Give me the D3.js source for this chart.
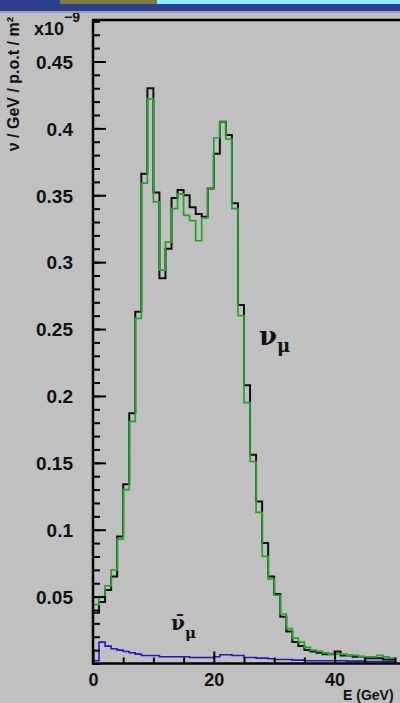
<!DOCTYPE html>
<html>
<head>
<meta charset="utf-8">
<script src="https://cdn.jsdelivr.net/npm/d3@7"></script>
<style>
  html, body { margin: 0; padding: 0; background: #c0c0c0; overflow: hidden; }
  svg { display: block; }
</style>
</head>
<body>
<svg id="chart" width="400" height="703"></svg>
<script>
// Energy bins (lower edges, GeV); each bin is 1 GeV wide
const binLowEdges = [0,1,2,3,4,5,6,7,8,9,10,11,12,13,14,15,16,17,18,19,20,21,22,23,24,25,26,27,28,29,30,31,32,33,34,35,36,37,38,39,40,41,42,43,44,45,46,47,48,49];
const binWidth = 1;

// nu_mu flux, first calculation (black), units of 1e-9 nu / GeV / p.o.t / m^2
const numuFluxA = [0.038,0.046,0.055,0.065,0.095,0.134,0.187,0.263,0.366,0.430,
                   0.352,0.288,0.310,0.348,0.354,0.350,0.341,0.336,0.334,0.355,
                   0.381,0.405,0.395,0.344,0.268,0.208,0.156,0.121,0.090,0.065,
                   0.052,0.035,0.024,0.016,0.013,0.010,0.009,0.008,0.007,0.007,
                   0.009,0.006,0.006,0.005,0.005,0.004,0.004,0.004,0.003,0.003];

// nu_mu flux, second calculation (green)
const numuFluxB = [0.044,0.050,0.058,0.070,0.093,0.130,0.181,0.258,0.359,0.422,
                   0.345,0.294,0.315,0.340,0.351,0.335,0.331,0.316,0.333,0.355,
                   0.393,0.405,0.392,0.340,0.260,0.195,0.151,0.113,0.080,0.063,
                   0.051,0.037,0.026,0.019,0.016,0.012,0.010,0.009,0.008,0.007,
                   0.007,0.007,0.006,0.006,0.005,0.005,0.005,0.006,0.005,0.004];

// anti-nu_mu flux (blue)
const numubarFlux = [0.002,0.016,0.013,0.011,0.010,0.009,0.008,0.007,0.006,0.006,
                     0.006,0.005,0.005,0.005,0.005,0.005,0.0045,0.0045,0.0045,0.0045,
                     0.005,0.0065,0.0065,0.006,0.006,0.0045,0.0045,0.004,0.004,0.0035,
                     0.003,0.003,0.003,0.0025,0.0025,0.002,0.002,0.002,0.002,0.002,
                     0.002,0.002,0.0018,0.0018,0.0018,0.0015,0.0015,0.0015,0.0015,0.0015];

// Axis ticks and labels
const xMajorTicks = [0, 20, 40];
const xMinorTicks = [5, 10, 15, 25, 30, 35, 45, 50];
const xTickLabels = ["0", "20", "40"];
const yMajorTicks = [0.05, 0.1, 0.15, 0.2, 0.25, 0.3, 0.35, 0.4, 0.45];
const yTickLabels = ["0.05", "0.1", "0.15", "0.2", "0.25", "0.3", "0.35", "0.4", "0.45"];

const svg = d3.select("#chart");
const W = 400, H = 703;

const frame = { left: 93, right: 400, top: 20, bottom: 663.5 };
const x = d3.scaleLinear().domain([0, 50]).range([93, 395]);
const y = d3.scaleLinear().domain([0, 0.481]).range([663.5, 20]);

const sans = "Liberation Sans, Arial, sans-serif";

// background
svg.append("rect").attr("width", W).attr("height", H).attr("fill", "#c0c0c0");

svg.append("defs").append("clipPath").attr("id", "plotClip")
  .append("rect")
  .attr("x", frame.left).attr("y", frame.top)
  .attr("width", frame.right - frame.left).attr("height", frame.bottom - frame.top);

// histogram outline as a step line
function stepPoints(values) {
  const pts = [[binLowEdges[0], 0]];
  values.forEach((v, i) => pts.push([binLowEdges[i], v]));
  const last = values.length - 1;
  pts.push([binLowEdges[last] + binWidth, values[last]]);
  return pts;
}
const stepLine = d3.line()
  .x(d => x(d[0]))
  .y(d => y(d[1]))
  .curve(d3.curveStepAfter);

const plot = svg.append("g").attr("clip-path", "url(#plotClip)");

plot.append("path")
  .attr("d", stepLine(stepPoints(numubarFlux)))
  .attr("fill", "none").attr("stroke", "#1a1ac8").attr("stroke-width", 1.6);

plot.append("path")
  .attr("d", stepLine(stepPoints(numuFluxA)))
  .attr("fill", "none").attr("stroke", "#101010").attr("stroke-width", 2);

plot.append("path")
  .attr("d", stepLine(stepPoints(numuFluxB)))
  .attr("fill", "none").attr("stroke", "#22a52a").attr("stroke-width", 1.7);

// y axis: minor ticks every 0.01, longer ticks at the labelled values
const yMinorAxis = d3.axisLeft(y).tickValues(y.ticks(50)).tickSize(-7).tickFormat("");
const yMajorAxis = d3.axisLeft(y).tickValues(yMajorTicks).tickSize(-13).tickPadding(20)
  .tickFormat((d, i) => yTickLabels[i]);

const gyMinor = svg.append("g").attr("transform", `translate(${frame.left},0)`).call(yMinorAxis);
const gyMajor = svg.append("g").attr("transform", `translate(${frame.left},0)`).call(yMajorAxis);
[gyMinor, gyMajor].forEach(g => {
  g.select(".domain").remove();
  g.selectAll(".tick line").attr("stroke", "#000").attr("stroke-width", 2);
});
gyMajor.selectAll(".tick text")
  .attr("fill", "#111")
  .attr("font-family", sans)
  .attr("font-weight", "bold")
  .attr("font-size", 19)
  .attr("dy", "0.36em");

// x axis: ticks pointing up into the plot
const xMinorAxis = d3.axisBottom(x).tickValues(xMinorTicks).tickSize(-6).tickFormat("");
const xMajorAxis = d3.axisBottom(x).tickValues(xMajorTicks).tickSize(-12).tickPadding(10)
  .tickFormat((d, i) => xTickLabels[i]);
const gxMinor = svg.append("g").attr("transform", `translate(0,${frame.bottom})`).call(xMinorAxis);
const gxMajor = svg.append("g").attr("transform", `translate(0,${frame.bottom})`).call(xMajorAxis);
[gxMinor, gxMajor].forEach(g => {
  g.select(".domain").remove();
  g.selectAll(".tick line").attr("stroke", "#000").attr("stroke-width", 2);
});
gxMajor.selectAll(".tick text")
  .attr("fill", "#111")
  .attr("font-family", sans)
  .attr("font-weight", "bold")
  .attr("font-size", 18);

// frame lines
svg.append("line").attr("x1", frame.left).attr("x2", frame.left)
  .attr("y1", frame.top).attr("y2", frame.bottom + 1)
  .attr("stroke", "#000").attr("stroke-width", 2.5);
svg.append("line").attr("x1", frame.left - 1).attr("x2", frame.right)
  .attr("y1", frame.bottom).attr("y2", frame.bottom)
  .attr("stroke", "#000").attr("stroke-width", 2.5);
svg.append("line").attr("x1", frame.left - 1).attr("x2", frame.right)
  .attr("y1", frame.top).attr("y2", frame.top)
  .attr("stroke", "#000").attr("stroke-width", 2.5);

// axis titles
svg.append("text")
  .attr("transform", "translate(19,17) rotate(-90)")
  .attr("text-anchor", "end")
  .attr("font-family", sans)
  .attr("font-weight", "bold")
  .attr("font-size", 16)
  .attr("fill", "#111")
  .text("ν / GeV / p.o.t / m²");

svg.append("text")
  .attr("x", 343).attr("y", 700)
  .attr("font-family", sans)
  .attr("font-weight", "bold")
  .attr("font-size", 14)
  .attr("fill", "#111")
  .text("E (GeV)");

// exponent of the y axis
const expo = svg.append("text")
  .attr("x", 34).attr("y", 35)
  .attr("font-family", sans)
  .attr("font-weight", "bold")
  .attr("fill", "#111");
expo.append("tspan").attr("font-size", 18).text("x10");
expo.append("tspan").attr("font-size", 14).attr("dy", -13).text("−9");

// curve labels
const nuLabel = svg.append("text")
  .attr("x", 259).attr("y", 345)
  .attr("font-family", "DejaVu Serif, serif")
  .attr("font-weight", "bold")
  .attr("fill", "#111");
nuLabel.append("tspan").attr("font-size", 26).text("ν");
nuLabel.append("tspan").attr("font-size", 18).attr("dy", 7).text("μ");

const nubarLabel = svg.append("text")
  .attr("x", 171).attr("y", 630)
  .attr("font-family", "DejaVu Serif, serif")
  .attr("font-weight", "bold")
  .attr("fill", "#111");
nubarLabel.append("tspan").attr("font-size", 20).text("ν̄");
nubarLabel.append("tspan").attr("font-size", 15).attr("dy", 8).text("μ");

// window band along the top edge
svg.append("rect").attr("x", 0).attr("y", 0).attr("width", W).attr("height", 11).attr("fill", "#2c3f8e");
svg.append("rect").attr("x", 157).attr("y", 0).attr("width", W - 157).attr("height", 4).attr("fill", "#86eefc");
svg.append("rect").attr("x", 60).attr("y", 0).attr("width", 97).attr("height", 4).attr("fill", "#7d7e3c");
svg.append("rect").attr("x", 0).attr("y", 11).attr("width", W).attr("height", 2).attr("fill", "#9aa0b8");
</script>
</body>
</html>
